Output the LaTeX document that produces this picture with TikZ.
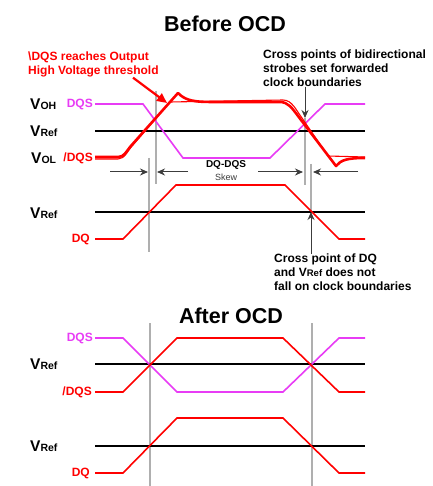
\documentclass[tikz,border=0pt]{standalone}
\usepackage{fontspec}
\setmainfont{Liberation Sans}
\usetikzlibrary{arrows.meta,positioning}
\definecolor{sigMagenta}{RGB}{232,60,245}
\definecolor{sigRed}{RGB}{255,0,0}
\definecolor{clkGray}{RGB}{175,175,175}
\definecolor{arrowDark}{RGB}{60,60,60}

% voltage level labels: big V, small suffix
\newcommand{\vlvl}[1]{{\fontsize{15.5}{15.5}\selectfont V}{\fontsize{10.5}{10.5}\selectfont #1}}

\begin{document}
\begin{tikzpicture}[x=1pt, y=-1pt,
    every node/.style={inner sep=0pt},
    titletext/.style={font=\fontsize{21.5}{21.5}\selectfont\bfseries},
    notetext/.style={font=\fontsize{12}{14}\selectfont\bfseries, align=left, anchor=north west},
    siglabel/.style={font=\fontsize{12}{12}\selectfont\bfseries, anchor=east},
    vlabel/.style={font=\bfseries, anchor=west},
    refline/.style={black, line width=1.3pt},
    clkline/.style={clkGray, line width=1.3pt},
    dqswave/.style={sigMagenta, line width=1.6pt},
    redwave/.style={sigRed, line width=1.6pt},
    skewarrow/.style={arrowDark, line width=1pt, -{Stealth[length=8pt,width=7pt]}},
    notearrow/.style={arrowDark, line width=1pt, -{Stealth[length=8pt,width=7pt]}}]
    \useasboundingbox[fill=white] (0,0) rectangle (432,486);

    % ---------------- Before OCD ----------------
    \node[titletext] (before) at (225,24) {Before OCD};

    % clock boundary lines
    \draw[clkline] (149,158) -- (149,252);
    \draw[clkline] (156,91) -- (156,184);
    \draw[clkline] (305,118) -- (305,185);
    \draw[clkline] (311,164) -- (311,212);

    % strobes
    \node[vlabel] (voh) at (30,104) {\vlvl{OH}};
    \node[vlabel] (vref1) at (30,131) {\vlvl{Ref}};
    \node[vlabel] (vol) at (31,158) {\vlvl{OL}};
    \node[siglabel, sigMagenta] (dqs1) at (93,104) {DQS};
    \node[siglabel, sigRed] (ndqs1) at (93,158) {/DQS};

    \draw[refline] (95,131) -- (365,131);
    \draw[dqswave] (95,104) -- (143,104) -- (183,158) -- (270,158) -- (325,104) -- (365,104);
    % /DQS with overshoot (several traces)
    \draw[sigRed, line width=1.1pt] (95,159) -- (118,159) .. controls (125,159) and (128,150) .. (133,145)
        -- (170,102) -- (283,100) .. controls (292,100) and (296,110) .. (302,118)
        -- (328,156) -- (365,157);
    \draw[sigRed, line width=2.6pt, line join=round] (95,157) -- (118,157) .. controls (124,157) and (126,152) .. (130,147)
        -- (178,93) .. controls (186,101) and (194,102) .. (215,102) -- (280,102)
        .. controls (288,102) and (292,108) .. (298,116) -- (336,166)
        .. controls (341,160) and (347,158) .. (365,158);

    % skew arrows
    \node[font=\fontsize{10}{10}\selectfont\bfseries] (skew) at (226,165) {DQ-DQS};
    \node[font=\fontsize{9}{9}\selectfont, arrowDark, below=4pt of skew] (skewb) {Skew};
    \draw[skewarrow] (110,172) -- (148,172);
    \draw[skewarrow] (188,172) -- (157,172);
    \draw[skewarrow] (258,172) -- (303,172);
    \draw[skewarrow] (358,172) -- (313,172);

    % data
    \node[vlabel] (vref2) at (30,213) {\vlvl{Ref}};
    \node[siglabel, sigRed] (dq1) at (90,239) {DQ};
    \draw[refline] (95,212) -- (365,212);
    \draw[redwave] (95,239) -- (123,239) -- (176,185) -- (285,185) -- (339,239) -- (365,239);

    % annotations
    \node[notetext, sigRed] (ohnote) at (28,52) {\textbackslash DQS reaches Output\\High Voltage threshold};
    \coordinate (ohtip) at (167,103);
    \draw[sigRed, line width=2.2pt, -{Triangle[length=10pt,width=9pt]}] ([xshift=105]ohnote.south west) -- (ohtip);

    \node[notetext] (crossnote) at (263,49.5) {Cross points of bidirectional\\strobes set forwarded\\clock boundaries};
    \coordinate (crosstip) at (305,118);
    \draw[notearrow] (crosstip |- crossnote.south) -- (crosstip);

    \node[notetext] (dqnote) at (274,254) {Cross point of DQ\\and V{\fontsize{9.5}{14}\selectfont Ref} does not\\fall on clock boundaries};
    \coordinate (dqtip) at (311,212);
    \draw[notearrow] (dqtip |- dqnote.north) -- (dqtip);

    % ---------------- After OCD ----------------
    \node[titletext] (after) at (231,315.5) {After OCD};

    \draw[clkline] (150,323) -- (150,486);
    \draw[clkline] (312,323) -- (312,486);

    \node[siglabel, sigMagenta] (dqs2) at (93,338) {DQS};
    \node[vlabel] (vref3) at (30,364) {\vlvl{Ref}};
    \node[siglabel, sigRed] (ndqs2) at (92,392) {/DQS};
    \draw[refline] (95,364) -- (365,364);
    \draw[dqswave] (95,338) -- (123,338) -- (177,392) -- (283,392) -- (339,338) -- (365,338);
    \draw[redwave] (95,392) -- (123,392) -- (177,338) -- (283,338) -- (339,392) -- (365,392);

    \node[vlabel] (vref4) at (30,446) {\vlvl{Ref}};
    \node[siglabel, sigRed] (dq2) at (90,473) {DQ};
    \draw[refline] (95,446) -- (365,446);
    \draw[redwave] (95,473) -- (123,473) -- (177,418) -- (283,418) -- (339,473) -- (365,473);
\end{tikzpicture}
\end{document}
